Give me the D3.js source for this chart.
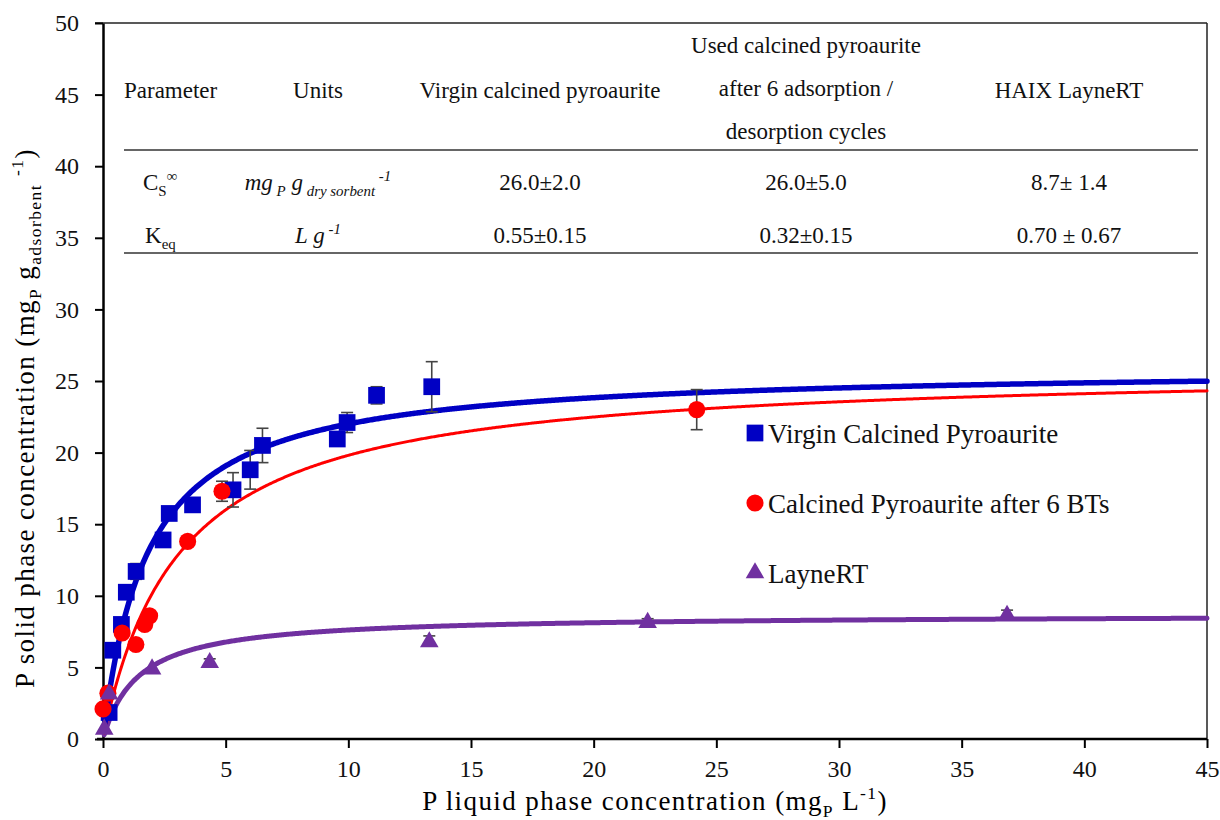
<!DOCTYPE html>
<html>
<head>
<meta charset="utf-8">
<script src="https://cdn.jsdelivr.net/npm/d3@7"></script>
<style>
  body { margin: 0; background: #fff; }
  svg text { font-family: "Times New Roman", "Liberation Serif", "DejaVu Serif", serif; }
</style>
</head>
<body>
<svg id="chart" width="1220" height="820"></svg>
<script>
// measured points (x = liquid conc, y = solid conc, err = +/- bar)
const virginX = [0.25, 0.4, 0.75, 0.95, 1.35, 2.45, 2.7, 3.65, 5.3, 6.0, 6.5, 9.55, 9.95, 11.15, 13.4];
const virginY = [1.85, 6.2, 8.0, 10.25, 11.7, 13.9, 15.75, 16.35, 17.4, 18.8, 20.5, 20.95, 22.1, 24.0, 24.6];
const virginErr = [0, 0, 0.3, 0, 0.55, 0, 0, 0, 1.2, 1.35, 1.2, 0.3, 0.7, 0.6, 1.75];

const usedX = [0.0, 0.2, 0.78, 1.34, 1.7, 1.9, 3.45, 4.85, 24.2];
const usedY = [2.1, 3.2, 7.4, 6.6, 8.0, 8.6, 13.8, 17.3, 23.0];
const usedErr = [0, 0, 0, 0, 0.3, 0, 0.3, 0.7, 1.4];

const layneX = [0.05, 0.25, 2.0, 4.35, 13.3, 22.2, 36.85];
const layneY = [0.75, 3.2, 4.95, 5.4, 6.85, 8.2, 8.7];
const layneErr = [0, 0, 0, 0.2, 0.35, 0.2, 0.3];

// Langmuir fit parameters (from the table): q = Qmax*K*C/(1+K*C)
const fitQmax = [26.0, 26.0, 8.7];
const fitK = [0.55, 0.32, 0.70];

const seriesNames = ["Virgin Calcined Pyroaurite", "Calcined Pyroaurite after 6 BTs", "LayneRT"];
const seriesColors = ["#0000c4", "#ff0000", "#7030a0"];
const lineWidths = [5.5, 3, 5];

const xTicks = [0, 5, 10, 15, 20, 25, 30, 35, 40, 45];
const yTicks = [0, 5, 10, 15, 20, 25, 30, 35, 40, 45, 50];

// table
const tableHeaders = ["Parameter", "Units", "Virgin calcined pyroaurite",
  ["Used calcined pyroaurite", "after 6 adsorption /", "desorption cycles"], "HAIX LayneRT"];
const csValues = ["26.0\u00b12.0", "26.0\u00b15.0", "8.7\u00b1 1.4"];
const keqValues = ["0.55\u00b10.15", "0.32\u00b10.15", "0.70 \u00b1 0.67"];

const serif = "'Times New Roman', 'Liberation Serif', 'DejaVu Serif', serif";
const svg = d3.select("#chart");
const x = d3.scaleLinear().domain([0, 45]).range([103, 1207]);
const y = d3.scaleLinear().domain([0, 50]).range([739, 23]);

// frame (top/right)
svg.append("line").attr("x1", 95).attr("x2", 1207).attr("y1", y(50)).attr("y2", y(50))
  .attr("stroke", "#222").attr("stroke-width", 1.5);
svg.append("line").attr("x1", 1207).attr("x2", 1207).attr("y1", y(50)).attr("y2", y(0))
  .attr("stroke", "#222").attr("stroke-width", 1.5);

// axes
const xAxis = svg.append("g").attr("transform", `translate(0,${y(0)})`)
  .call(d3.axisBottom(x).tickValues(xTicks).tickSize(9).tickPadding(12).tickSizeOuter(0));
const yAxis = svg.append("g").attr("transform", `translate(${x(0)},0)`)
  .call(d3.axisLeft(y).tickValues(yTicks).tickSize(8).tickPadding(16).tickSizeOuter(0));
[xAxis, yAxis].forEach(a => {
  a.attr("font-family", serif);
  a.select(".domain").attr("stroke", "#000").attr("stroke-width", 2.5);
  a.selectAll(".tick line").attr("stroke", "#000").attr("stroke-width", 2);
  a.selectAll(".tick text").attr("fill", "#111").style("font-size", "24px");
});
xAxis.select(".domain").attr("d", `M${x(0) - 6},0H${x(45)}`);

// rich text helper: parts = [text, "sub"|"sup"|null, italic]
function rich(parent, px, py, parts, size, anchor) {
  const t = parent.append("text").attr("x", px).attr("y", py)
    .attr("text-anchor", anchor || "start").style("font-size", size + "px").attr("fill", "#111");
  let shift = 0;
  parts.forEach(([str, kind, italic]) => {
    const target = kind === "sub" ? size * 0.26 : kind === "sup" ? -size * 0.4 : 0;
    const ts = t.append("tspan").text(str).attr("dy", target - shift);
    shift = target;
    if (kind) ts.style("font-size", size * 0.65 + "px");
    if (italic) ts.style("font-style", "italic");
  });
  return t;
}

// axis titles
rich(svg, 655, 810, [["P liquid phase concentration (mg"], ["P", "sub"], [" L"], ["-1", "sup"], [")"]], 27, "middle")
  .attr("fill", "#000").style("letter-spacing", "1.4px");
rich(svg.append("g").attr("transform", "translate(34,418) rotate(-90)"), 0, 0,
  [["P solid phase concentration (mg"], ["P", "sub"], [" g"], ["adsorbent", "sub"], [" "], ["-1", "sup"], [")"]], 27, "middle")
  .attr("fill", "#000").style("letter-spacing", "1.4px");

// table
const tbl = svg.append("g");
const colX = [124, 318, 540, 806, 1069];
tableHeaders.forEach((h, i) => {
  if (Array.isArray(h)) {
    h.forEach((line, j) => tbl.append("text").attr("x", colX[i]).attr("y", 53 + j * 43)
      .attr("text-anchor", "middle").style("font-size", "23px").attr("fill", "#111").text(line));
  } else {
    tbl.append("text").attr("x", colX[i]).attr("y", 98)
      .attr("text-anchor", i === 0 ? "start" : "middle").style("font-size", "23px").attr("fill", "#111").text(h);
  }
});
[150, 253].forEach(ly => tbl.append("line").attr("x1", 124).attr("x2", 1198).attr("y1", ly).attr("y2", ly)
  .attr("stroke", "#333").attr("stroke-width", 1.5));
rich(tbl, 143, 190, [["C"], ["S", "sub"], ["\u221e", "sup"]], 23, "start");
rich(tbl, 145, 243, [["K"], ["eq", "sub"]], 23, "start");
rich(tbl, 318, 190, [["mg", null, true], [" P", "sub", true], [" g", null, true], [" dry sorbent", "sub", true], ["   -1", "sup", true]], 23, "middle");
rich(tbl, 318, 243, [["L g", null, true], [" -1", "sup", true]], 23, "middle");
csValues.forEach((v, i) => tbl.append("text").attr("x", colX[i + 2]).attr("y", 190)
  .attr("text-anchor", "middle").style("font-size", "23px").attr("fill", "#111").text(v));
keqValues.forEach((v, i) => tbl.append("text").attr("x", colX[i + 2]).attr("y", 243)
  .attr("text-anchor", "middle").style("font-size", "23px").attr("fill", "#111").text(v));

// fitted Langmuir curves
const cGrid = d3.range(0.05, 45.001, 0.05);
const line = d3.line().x(d => x(d[0])).y(d => y(d[1]));
[2, 1, 0].forEach(i => {
  const pts = cGrid.map(c => [c, fitQmax[i] * fitK[i] * c / (1 + fitK[i] * c)]);
  svg.append("path").datum(pts).attr("d", line).attr("fill", "none")
    .attr("stroke", seriesColors[i]).attr("stroke-width", lineWidths[i]).attr("stroke-linecap", "round");
});

// data series
const series = [
  { xs: virginX, ys: virginY, es: virginErr, sym: d3.symbolSquare, size: 280 },
  { xs: usedX, ys: usedY, es: usedErr, sym: d3.symbolCircle, size: 230 },
  { xs: layneX, ys: layneY, es: layneErr, sym: d3.symbolTriangle, size: 150 }
];
series.forEach((s, i) => {
  const pts = s.xs.map((v, k) => ({ x: v, y: s.ys[k], e: s.es[k] }));
  const eb = svg.append("g").attr("stroke", "#444").attr("stroke-width", 1.6);
  pts.filter(p => p.e > 0).forEach(p => {
    eb.append("line").attr("x1", x(p.x)).attr("x2", x(p.x)).attr("y1", y(p.y - p.e)).attr("y2", y(p.y + p.e));
    [p.y - p.e, p.y + p.e].forEach(v => eb.append("line")
      .attr("x1", x(p.x) - 6).attr("x2", x(p.x) + 6).attr("y1", y(v)).attr("y2", y(v)));
  });
  svg.append("g").selectAll("path").data(pts).join("path")
    .attr("transform", p => `translate(${x(p.x)},${y(p.y) + (i === 2 ? 1 : 0)})`)
    .attr("d", d3.symbol().type(s.sym).size(s.size))
    .attr("fill", seriesColors[i]);
});

// legend
const leg = svg.append("g");
const legSyms = [d3.symbolSquare, d3.symbolCircle, d3.symbolTriangle];
const legSizes = [280, 230, 150];
seriesNames.forEach((name, i) => {
  const ly = 433 + i * 70;
  leg.append("path").attr("transform", `translate(755,${ly})`)
    .attr("d", d3.symbol().type(legSyms[i]).size(legSizes[i])).attr("fill", seriesColors[i]);
  leg.append("text").attr("x", 768).attr("y", ly + 10).style("font-size", "27px").attr("fill", "#111").text(name);
});
</script>
</body>
</html>
